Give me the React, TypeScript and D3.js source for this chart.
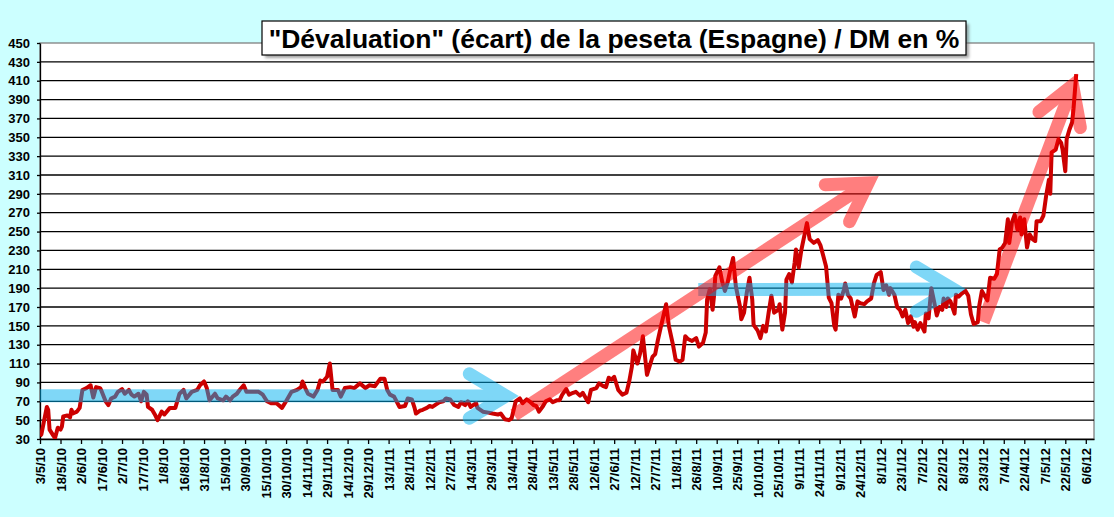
import React, { useEffect, useRef } from 'react';
import * as d3 from 'd3';

// series: [days since 3/5/2010, écart en %]
const START = Date.UTC(2010, 4, 3);
const DAY = 86400000;

const serie2010: [number, number][] = [
  [0, 33], [1, 35], [5, 64], [6, 61], [7, 40], [10, 33], [11, 31], [13, 42], [15, 40], [16, 43],
  [17, 54], [20, 55], [22, 53], [23, 61], [24, 57], [27, 59], [29, 63], [31, 82], [34, 84], [37, 87],
  [39, 74], [41, 85], [44, 84], [45, 81], [48, 70], [50, 66], [52, 73], [55, 75], [57, 80], [60, 83],
  [62, 78], [65, 82], [67, 77], [69, 75], [72, 78], [74, 70], [76, 80], [78, 77], [79, 64], [82, 61],
  [84, 56], [86, 50], [89, 59], [91, 56], [95, 63], [99, 63], [102, 78], [105, 82], [107, 73], [111, 80],
  [115, 82], [117, 87], [120, 91], [122, 84], [124, 71], [128, 78], [130, 73], [134, 71], [136, 75], [139, 71],
  [141, 75], [144, 78], [146, 82], [149, 87], [151, 80], [156, 80], [160, 80], [163, 77], [166, 70], [169, 68],
  [173, 68], [177, 63], [180, 70], [184, 80], [188, 82], [191, 85], [192, 91], [194, 84], [196, 78], [200, 75],
  [203, 82], [205, 92], [207, 91], [210, 96], [212, 110], [214, 82], [218, 82], [220, 75], [223, 84], [227, 85],
  [230, 84], [234, 89], [238, 84], [241, 87], [245, 86],
];

const serie2011a: [number, number][] = [
  [249, 94], [252, 94], [254, 82], [256, 77], [259, 75], [263, 64], [267, 65], [269, 73], [272, 72], [274, 63],
  [275, 57], [278, 60], [280, 61], [283, 63], [285, 65], [287, 64], [290, 67], [292, 69], [295, 70], [297, 73],
  [300, 72], [303, 66], [306, 64], [308, 69], [311, 66], [313, 70], [315, 64], [319, 68], [320, 63], [324, 59],
  [328, 58], [331, 57], [335, 56], [337, 57], [340, 51], [343, 50], [345, 52], [348, 70], [351, 73], [353, 68],
  [356, 72], [358, 70], [361, 66], [363, 65], [365, 59], [368, 65], [370, 70], [373, 72], [375, 69], [378, 71],
  [380, 71], [382, 77], [385, 83], [387, 77], [390, 79], [392, 80], [395, 76], [397, 79], [401, 69], [403, 82],
  [407, 84], [409, 89], [412, 86], [414, 85], [416, 95], [418, 93], [420, 96], [423, 82], [426, 77], [429, 79],
];

const serie2011b: [number, number][] = [
  [431, 91], [433, 107], [434, 124], [437, 110], [439, 121], [441, 139], [444, 98], [448, 117], [450, 120], [452, 135],
  [454, 148], [458, 173], [460, 150], [463, 130], [465, 114], [468, 112], [470, 114], [472, 139], [474, 136], [477, 134],
  [480, 137], [482, 128], [485, 132], [487, 143], [488, 178], [490, 189], [492, 167], [493, 181], [494, 203], [497, 212],
  [499, 197], [501, 187], [503, 196], [505, 210], [507, 222], [509, 192], [512, 171], [513, 157], [515, 164], [517, 185],
  [519, 201], [521, 178], [522, 151], [525, 145], [527, 137], [529, 150], [531, 144], [533, 164], [535, 182], [537, 164],
  [540, 167], [541, 173], [543, 146], [545, 164], [546, 199], [548, 205], [550, 196], [552, 217], [553, 231], [555, 212],
  [557, 231], [559, 245], [561, 259], [563, 242], [566, 238], [569, 241], [571, 235], [573, 224], [575, 213], [577, 180],
  [579, 174], [581, 150], [582, 146], [584, 183], [586, 179], [588, 188], [589, 195], [591, 183], [593, 179], [596, 160],
  [598, 176], [600, 174], [603, 173], [605, 176], [608, 179], [610, 195], [612, 204], [615, 207], [617, 188], [619, 193],
  [621, 183], [622, 190], [625, 183], [627, 170], [629, 167], [631, 160], [633, 167], [635, 153], [637, 160], [639, 149],
];

const serie2012: [number, number][] = [
  [640, 154], [642, 146], [644, 153], [647, 144], [648, 163], [650, 158], [652, 190], [654, 176], [656, 161], [658, 170],
  [660, 167], [661, 179], [663, 170], [664, 179], [666, 176], [669, 163], [670, 183], [672, 181], [674, 184], [677, 187],
  [679, 182], [681, 162], [683, 152], [686, 154], [687, 171], [689, 187], [691, 182], [693, 177], [695, 201], [698, 200],
  [700, 205], [702, 231], [704, 233], [706, 238], [708, 263], [709, 238], [711, 260], [713, 268], [715, 252], [717, 265],
  [718, 247], [720, 263], [722, 233], [724, 247], [726, 242], [728, 240], [729, 261], [732, 261], [734, 267], [736, 288],
  [738, 305], [739, 290], [740, 334], [743, 337], [745, 348], [747, 344], [748, 337], [750, 314], [751, 348], [753, 358],
  [755, 366], [756, 380], [758, 417],
];

const yTicks = d3.range(30, 451, 20);
const xTickDays = d3.range(0, 766, 15);
const title = '"Dévaluation" (écart) de la peseta (Espagne) / DM en %';

// annotation arrows, [day, value] of start and tip
const blueArrows: [number, number][][] = [
  [[-20, 76], [341, 75.6]],
  [[481.5, 188.5], [668, 189]],
];
const redArrows: [number, number][][] = [
  [[346.8, 55.5], [605.8, 301.5]],
  [[690, 154], [755.4, 405.2]],
];

const W = 1114;
const H = 517;
const FONT = "Arial, 'Liberation Sans', sans-serif";

const App: React.FC = () => {
  const svgRef = useRef<SVGSVGElement | null>(null);

  useEffect(() => {
    if (!svgRef.current) return;
    const svg = d3.select(svgRef.current);
    svg.selectAll('*').remove();

    const margin = { top: 43, right: 20, bottom: 78, left: 40 };
    const toDate = (d: number) => new Date(START + d * DAY);

    const x = d3.scaleUtc()
      .domain([toDate(0), toDate(771)])
      .range([margin.left, W - margin.right]);
    const y = d3.scaleLinear()
      .domain([30, 450])
      .range([H - margin.bottom, margin.top]);

    const [x0, x1] = x.range();
    const [y1, y0] = y.range();

    svg.append('rect').attr('width', W).attr('height', H).attr('fill', '#ccffff');

    const defs = svg.append('defs');
    defs.append('clipPath').attr('id', 'plot')
      .append('rect').attr('x', x0).attr('y', y0).attr('width', x1 - x0).attr('height', y1 - y0);
    defs.append('filter').attr('id', 'shadow').attr('x', '-5%').attr('y', '-30%').attr('width', '110%').attr('height', '160%')
      .append('feGaussianBlur').attr('stdDeviation', 1.5);

    // plot area
    svg.append('rect')
      .attr('x', x0).attr('y', y0).attr('width', x1 - x0).attr('height', y1 - y0)
      .attr('fill', '#fff').attr('stroke', '#808080').attr('stroke-width', 1.3);

    // gridlines
    svg.append('g')
      .selectAll('line')
      .data(yTicks.filter(v => v > 30 && v < 450))
      .join('line')
      .attr('x1', x0).attr('x2', x1)
      .attr('y1', d => y(d)).attr('y2', d => y(d))
      .attr('stroke', '#000').attr('stroke-width', 1.3);

    // axes
    const xAxis = svg.append('g')
      .attr('transform', `translate(0,${y1})`)
      .call(d3.axisBottom(x)
        .tickValues(xTickDays.map(toDate))
        .tickFormat(d3.utcFormat('%-d/%-m/%y') as any)
        .tickSize(5)
        .tickSizeOuter(0));
    xAxis.selectAll('text')
      .attr('transform', 'rotate(-90)')
      .attr('text-anchor', 'end')
      .attr('x', -9)
      .attr('y', 0)
      .attr('dy', '0.36em');

    const yAxis = svg.append('g')
      .attr('transform', `translate(${x0},0)`)
      .call(d3.axisLeft(y).tickValues(yTicks).tickSize(3).tickPadding(7).tickSizeOuter(0));

    [xAxis, yAxis].forEach(g => {
      g.selectAll('path, line').attr('stroke', '#000').attr('stroke-width', 1.3);
      g.selectAll('text')
        .attr('fill', '#000')
        .attr('font-family', FONT)
        .attr('font-size', 13)
        .attr('font-weight', 'bold');
    });

    const plot = svg.append('g').attr('clip-path', 'url(#plot)');

    // series
    const data = [...serie2010, ...serie2011a, ...serie2011b, ...serie2012];
    const line = d3.line<[number, number]>()
      .x(d => x(toDate(d[0])))
      .y(d => y(d[1]));
    plot.append('path')
      .datum(data)
      .attr('d', line)
      .attr('fill', 'none')
      .attr('stroke', '#cc0000')
      .attr('stroke-width', 4)
      .attr('stroke-linejoin', 'round');

    // arrows
    const drawArrow = (a: [number, number][], color: string) => {
      const sx = x(toDate(a[0][0])), sy = y(a[0][1]);
      const tx = x(toDate(a[1][0])), ty = y(a[1][1]);
      const len = Math.hypot(tx - sx, ty - sy);
      const bx = (sx - tx) / len, by = (sy - ty) / len;
      const ang = (31 * Math.PI) / 180;
      const L = 43;
      const rot = (s: number) => [
        tx + L * (Math.cos(s * ang) * bx - Math.sin(s * ang) * by),
        ty + L * (Math.sin(s * ang) * bx + Math.cos(s * ang) * by),
      ];
      const [ax, ay] = rot(1);
      const [cx, cy] = rot(-1);
      const g = plot.append('g').attr('opacity', 0.5);
      g.append('path')
        .attr('d', `M${sx},${sy}L${tx},${ty}`)
        .attr('stroke', color).attr('stroke-width', 13).attr('fill', 'none');
      g.append('path')
        .attr('d', `M${ax},${ay}L${tx},${ty}L${cx},${cy}`)
        .attr('stroke', color).attr('stroke-width', 13).attr('fill', 'none')
        .attr('stroke-linecap', 'round').attr('stroke-linejoin', 'miter');
    };
    blueArrows.forEach(a => drawArrow(a, '#00b0f0'));
    redArrows.forEach(a => drawArrow(a, '#ff0000'));

    // title
    const tb = { x: 262, y: 21, w: 704, h: 34 };
    svg.append('rect')
      .attr('x', tb.x + 3).attr('y', tb.y + 3).attr('width', tb.w).attr('height', tb.h)
      .attr('fill', '#666').attr('opacity', 0.6).attr('filter', 'url(#shadow)');
    svg.append('rect')
      .attr('x', tb.x).attr('y', tb.y).attr('width', tb.w).attr('height', tb.h)
      .attr('fill', '#fff').attr('stroke', '#000').attr('stroke-width', 1.2);
    svg.append('text')
      .attr('x', tb.x + tb.w / 2).attr('y', tb.y + 26.5)
      .attr('text-anchor', 'middle')
      .attr('font-family', FONT)
      .attr('font-size', 26.5)
      .attr('font-weight', 'bold')
      .attr('fill', '#000')
      .text(title);
  }, []);

  return (
    <svg
      ref={svgRef}
      width={W}
      height={H}
      viewBox={`0 0 ${W} ${H}`}
      style={{ position: 'absolute', left: 0, top: 0, display: 'block' }}
    />
  );
};

export default App;
